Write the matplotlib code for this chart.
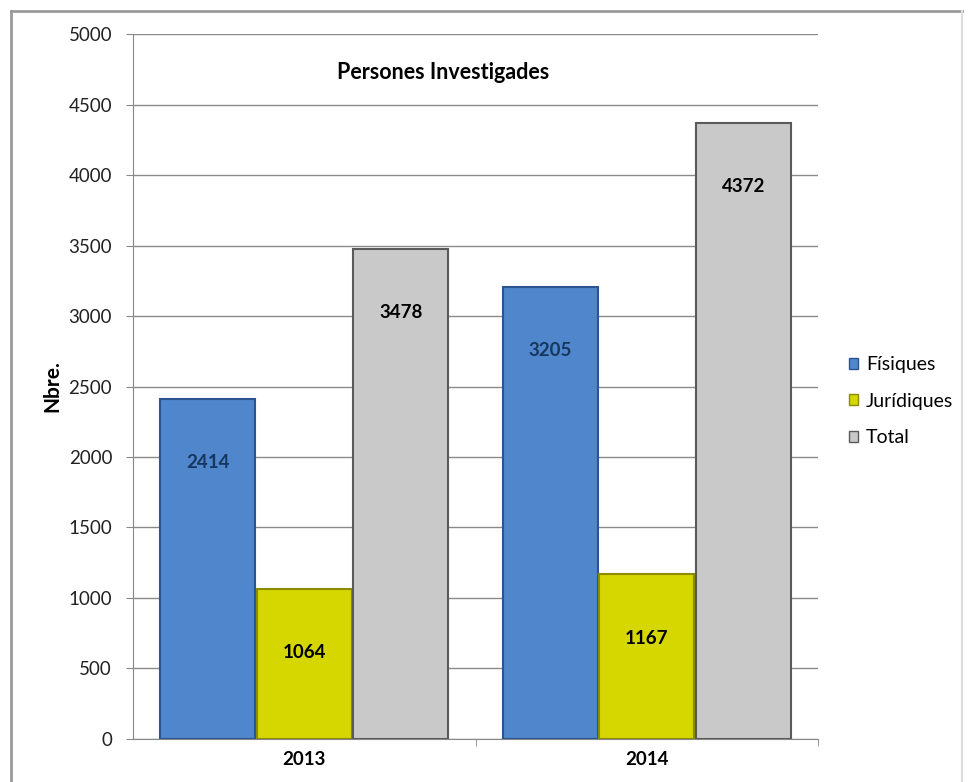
import numpy as np
import matplotlib
matplotlib.use("Agg")
import matplotlib.pyplot as plt
from matplotlib.patches import Rectangle
from matplotlib.lines import Line2D

# data
years = ["2013", "2014"]
series = ["Físiques", "Jurídiques", "Total"]
fisiques = [2414, 3205]
juridiques = [1064, 1167]
total = [3478, 4372]

plt.rcParams['font.family'] = ['Lato', 'DejaVu Sans']

fig = plt.figure(figsize=(9.72, 7.82), dpi=100)
ax = fig.add_axes([0.1368, 0.055, 0.7048, 0.9015])

x = np.arange(len(years))
w = 0.277
face = ["#4f86cc", "#d6d600", "#c9c9c9"]
edge = ["#2a5590", "#8c8c00", "#5a5a5a"]
txtc = ["#17375e", "black", "black"]
vals = [fisiques, juridiques, total]
offs = [-0.282, 0.0, 0.282]

for k in range(3):
    bars = ax.bar(x + offs[k], vals[k], w, color=face[k], edgecolor=edge[k],
                  linewidth=1.5, label=series[k], zorder=3)
    for b, v in zip(bars, vals[k]):
        ax.annotate(str(v), (b.get_x() + b.get_width() / 2, v), xytext=(0, -46),
                    textcoords="offset points", ha="center", va="center",
                    fontsize=13.5, fontweight="bold", color=txtc[k], zorder=4)

ax.set_xlim(-0.5, 1.5)
ax.set_ylim(0, 5000)
ax.set_yticks(np.arange(0, 5001, 500))
ax.set_xticks(x)
ax.set_xticklabels(years, fontsize=13.5, fontweight="bold")
ax.set_xticks([0.5, 1.5], minor=True)
ax.tick_params(axis="x", which="major", length=0, pad=9)
ax.tick_params(axis="x", which="minor", length=5, color="#888888")
ax.tick_params(axis="y", length=5, color="#888888", labelsize=13.5, labelcolor="#222222", pad=10)
ax.grid(axis="y", color="#8a8a8a", linewidth=1, zorder=0)
for s in ["top", "right"]:
    ax.spines[s].set_visible(False)
for s in ["left", "bottom"]:
    ax.spines[s].set_color("#888888")

ax.set_ylabel("Nbre.", fontsize=15, fontweight="bold", labelpad=4)
ax.text(-0.5 + 0.453 * 2, 4730, "Persones Investigades",
        ha="center", va="center", fontsize=15.5, fontweight="bold")

handles = [Rectangle((0, 0), 1, 1, facecolor=face[k], edgecolor=edge[k]) for k in range(3)]
fig.legend(handles, series, loc="center left", bbox_to_anchor=(0.873, 0.487),
           frameon=False, fontsize=14, handlelength=0.5, handleheight=0.5,
           handletextpad=0.4, labelspacing=1.0, borderpad=0, borderaxespad=0)

# outer frame
fc = "#9a9a9a"
fig.add_artist(Line2D([0.011, 0.011], [0, 0.986], color=fc, lw=2, transform=fig.transFigure))
fig.add_artist(Line2D([0.011, 0.990], [0.986, 0.986], color=fc, lw=2, transform=fig.transFigure))
fig.add_artist(Line2D([0.990, 0.990], [0, 0.986], color="#dddddd", lw=1.5, transform=fig.transFigure))

fig.savefig("out.png", dpi=100)
